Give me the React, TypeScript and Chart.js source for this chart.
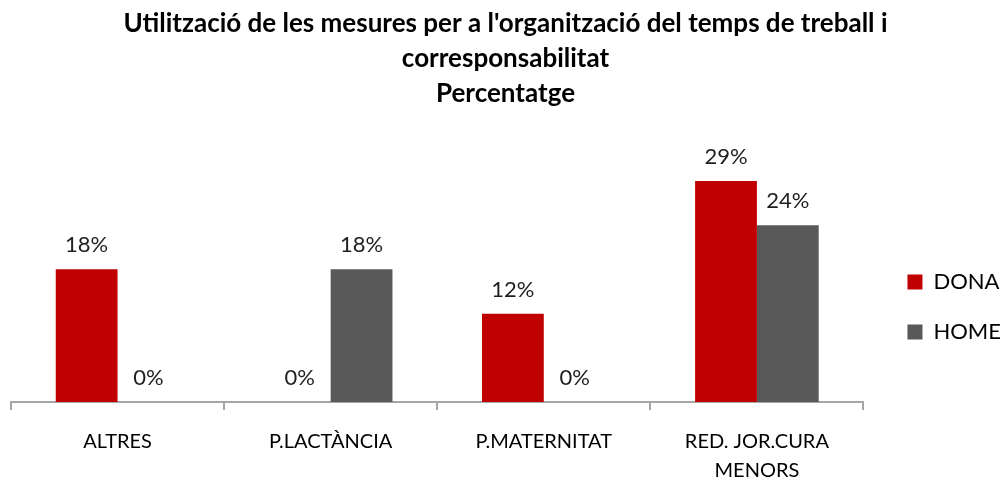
import React, { useEffect, useRef } from "react";
import { Chart, registerables } from "chart.js";

Chart.register(...registerables);

const categories: (string | string[])[] = [
  "ALTRES",
  "P.LACTÀNCIA",
  "P.MATERNITAT",
  ["RED. JOR.CURA", "MENORS"],
];
const donaValues = [17.65, 0, 11.76, 29.41];
const homeValues = [0, 17.65, 0, 23.53];
const seriesNames = ["DONA", "HOME"];
const titleLines = [
  "Utilització de les mesures per a l'organització del temps de treball i",
  "corresponsabilitat",
  "Percentatge",
];

const FONT = "Lato, 'Open Sans', sans-serif";

const valueLabels = {
  id: "valueLabels",
  afterDatasetsDraw(chart: any) {
    const ctx = chart.ctx;
    ctx.save();
    ctx.font = `22px ${FONT}`;
    ctx.fillStyle = "#1f1f1f";
    ctx.textAlign = "center";
    ctx.textBaseline = "middle";
    chart.data.datasets.forEach((ds: any, i: number) => {
      const meta = chart.getDatasetMeta(i);
      meta.data.forEach((el: any, j: number) => {
        const v = ds.data[j] as number;
        ctx.fillText(Math.round(v) + "%", el.x, el.y - 24);
      });
    });
    ctx.restore();
  },
};

export default function App() {
  const ref = useRef<HTMLCanvasElement>(null);
  useEffect(() => {
    if (!ref.current) return;
    const chart = new Chart(ref.current, {
      type: "bar",
      data: {
        labels: categories,
        datasets: [
          {
            label: seriesNames[0],
            data: donaValues,
            backgroundColor: "#C00000",
            categoryPercentage: 0.58,
            barPercentage: 1,
          },
          {
            label: seriesNames[1],
            data: homeValues,
            backgroundColor: "#595959",
            categoryPercentage: 0.58,
            barPercentage: 1,
          },
        ],
      },
      options: {
        responsive: false,
        animation: false,
        layout: { padding: { left: 0, right: -11, top: 0, bottom: 0 } },
        plugins: {
          title: {
            display: true,
            text: titleLines,
            color: "#000",
            font: { family: FONT, size: 26, weight: "bold", lineHeight: 1.346 },
            padding: { top: 6, bottom: 28 },
          },
          legend: {
            display: true,
            position: "right",
            align: "center",
            title: {
              display: true,
              text: "",
              font: { size: 12, lineHeight: 1 },
              padding: { top: 122, bottom: 0 },
            },
            labels: {
              boxWidth: 15,
              boxHeight: 15,
              color: "#000",
              font: { family: FONT, size: 22 },
              padding: 28,
            },
          },
          tooltip: { enabled: false },
        },
        scales: {
          x: {
            grid: {
              display: true,
              drawOnChartArea: false,
              offset: true,
              color: "#A6A6A6",
              lineWidth: 2,
              tickLength: 8,
            },
            border: { display: true, color: "#A6A6A6", width: 2 },
            ticks: {
              color: "#000",
              font: { family: FONT, size: 20, lineHeight: 1.45 },
              padding: 17,
              maxRotation: 0,
              autoSkip: false,
            },
            afterFit(s: any) {
              s.height = 78;
            },
          },
          y: {
            display: true,
            min: 0,
            max: 35,
            grid: { display: false },
            border: { display: false },
            ticks: { display: false },
            afterFit(s: any) {
              s.width = 11;
            },
          },
          spacer: {
            position: "right",
            display: true,
            grid: { display: false },
            border: { display: false },
            ticks: { display: false },
            afterFit(s: any) {
              s.width = 16;
            },
          },
        },
      },
      plugins: [valueLabels],
    });
    return () => chart.destroy();
  }, []);
  return (
    <div style={{ position: "fixed", left: 0, top: 0, width: 1000, height: 480 }}>
      <canvas ref={ref} width={1000} height={480} />
    </div>
  );
}
